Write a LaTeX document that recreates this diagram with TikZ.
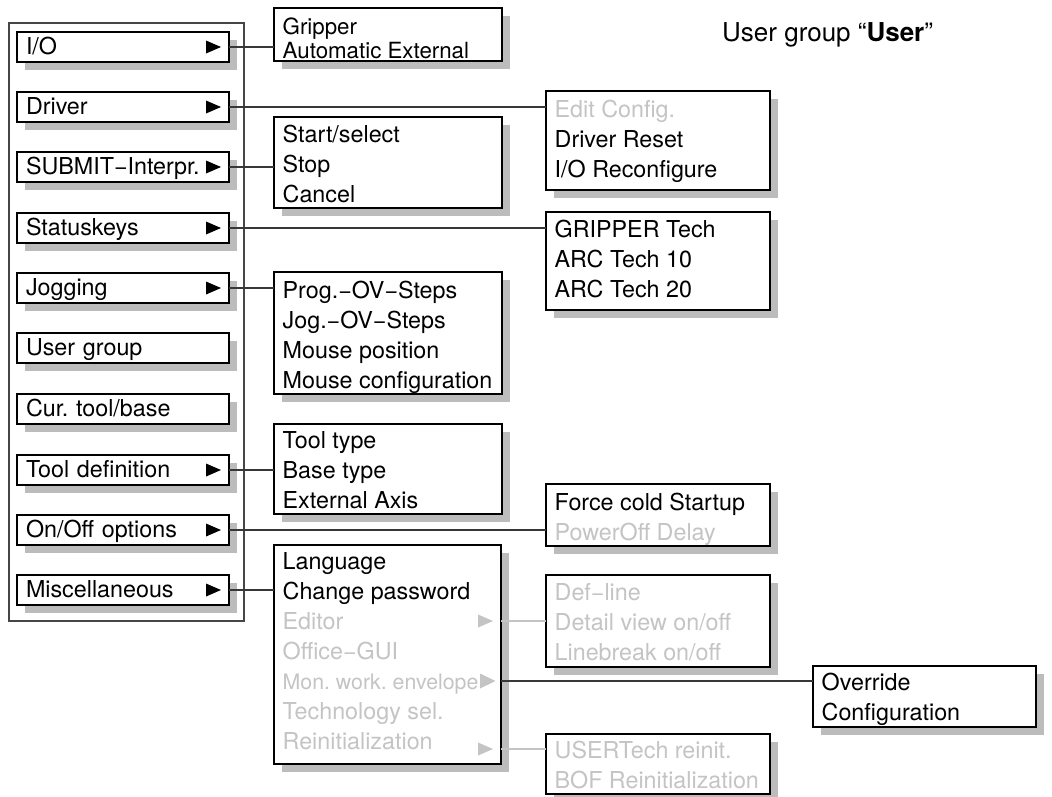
\documentclass[tikz,border=0pt]{standalone}
\usepackage{fontspec}
\setmainfont{TeX Gyre Heros}
\usetikzlibrary{shadows}
\definecolor{lg}{RGB}{196,196,196}
\definecolor{shg}{RGB}{188,188,188}
\definecolor{cn}{RGB}{55,55,55}
\definecolor{fr}{RGB}{70,70,70}
\newcommand\myln[1]{\strut#1}
\newcommand\mtri[2]{\fill[#2] ([shift={(-23,-6.5)}]#1) -- ([shift={(-8,0)}]#1) -- ([shift={(-23,6.5)}]#1) -- cycle;}
\frenchspacing
\begin{document}
\begin{tikzpicture}[x=1pt,y=-1pt,
  font=\fontsize{23.3}{30}\selectfont\frenchspacing,
  shbox/.style={draw=black, line width=2.6pt, fill=white, outer sep=0pt, inner sep=0pt,
    drop shadow={shadow xshift=7.5pt, shadow yshift=-7.5pt, fill=shg, opacity=1}},
  menu/.style={shbox, minimum width=212pt, minimum height=30pt, text width=194pt,
    align=left, inner xsep=9pt, inner ysep=0pt, text height=18pt, text depth=3pt},
  lines/.style={anchor=north west, inner sep=0pt, align=left},
  conn/.style={draw=cn, line width=1.3pt},
  gconn/.style={draw=lg, line width=1.3pt}]
\useasboundingbox (0,0) rectangle (1052,796);

% title
\node[anchor=base west, inner sep=0pt, font=\fontsize{26}{30}\selectfont] (title) at (722,41) {User group “\textbf{User}”};

% outer frame of main menu
\node[draw=fr, line width=1.1pt, minimum width=235pt, minimum height=598pt, inner sep=0pt] (frame) at (126.5,322) {};

% main menu items
\node[menu] (mIO)   at (123,47)  {I/O};
\node[menu] (mDrv)  at (123,107) {Driver};
\node[menu] (mSub)  at (123,167) {SUBMIT−Interpr.};
\node[menu] (mStat) at (123,228) {Statuskeys};
\node[menu] (mJog)  at (123,288) {Jogging};
\node[menu] (mUsr)  at (123,348) {User group};
\node[menu] (mCur)  at (123,409) {Cur. tool/base};
\node[menu] (mTool) at (123,470) {Tool definition};
\node[menu] (mOn)   at (123,530) {On/Off options};
\node[menu] (mMisc) at (123,590) {Miscellaneous};
\mtri{mIO.east}{black}
\mtri{mDrv.east}{black}
\mtri{mSub.east}{black}
\mtri{mStat.east}{black}
\mtri{mJog.east}{black}
\mtri{mTool.east}{black}
\mtri{mOn.east}{black}
\mtri{mMisc.east}{black}

% submenu boxes
\node[shbox, minimum width=228pt, minimum height=53pt] (grip) at (388,34.5) {};
\node[lines, font=\fontsize{22.3}{22}\selectfont] (gripT) at (282.5,17.6) {\myln{Gripper}\\\myln{Automatic External}};

\node[shbox, minimum width=224pt, minimum height=99pt] (drv) at (658,140.5) {};
\node[lines] (drvT) at (554.5,96) {\myln{\textcolor{lg}{Edit Config.}}\\\myln{Driver Reset}\\\myln{I/O Reconfigure}};

\node[shbox, minimum width=228pt, minimum height=91pt] (sub) at (388,162.5) {};
\node[lines] (subT) at (282.5,121) {\myln{Start/select}\\\myln{Stop}\\\myln{Cancel}};

\node[shbox, minimum width=224pt, minimum height=98pt] (stat) at (658,261) {};
\node[lines] (statT) at (554.5,216) {\myln{GRIPPER Tech}\\\myln{ARC Tech 10}\\\myln{ARC Tech 20}};

\node[shbox, minimum width=228pt, minimum height=122pt] (jog) at (388,333) {};
\node[lines] (jogT) at (282.5,277) {\myln{Prog.−OV−Steps}\\\myln{Jog.−OV−Steps}\\\myln{Mouse position}\\\myln{Mouse configuration}};

\node[shbox, minimum width=228pt, minimum height=90pt] (tool) at (388,469) {};
\node[lines] (toolT) at (282.5,427) {\myln{Tool type}\\\myln{Base type}\\\myln{External Axis}};

\node[shbox, minimum width=224pt, minimum height=62pt] (onoff) at (658,515) {};
\node[lines] (onoffT) at (554.5,489) {\myln{Force cold Startup}\\\myln{\textcolor{lg}{PowerOff Delay}}};

\node[shbox, minimum width=227pt, minimum height=219pt] (misc) at (387.5,654.5) {};
\node[lines] (miscT) at (282.5,548) {\myln{Language}\\\myln{Change password}\\\myln{\textcolor{lg}{Editor}}\\\myln{\textcolor{lg}{Office−GUI}}\\{\fontsize{21.3}{30}\selectfont\myln{\textcolor{lg}{Mon. work. envelope}}}\\\myln{\textcolor{lg}{Technology sel.}}\\\myln{\textcolor{lg}{Reinitialization}}};

\node[shbox, minimum width=224pt, minimum height=92pt] (def) at (658,621) {};
\node[lines, text=lg] (defT) at (554.5,579) {\myln{Def−line}\\\myln{Detail view on/off}\\\myln{Linebreak on/off}};

\node[shbox, minimum width=223pt, minimum height=61pt] (over) at (924.5,696.5) {};
\node[lines] (overT) at (821.5,669) {\myln{Override}\\\myln{Configuration}};

\node[shbox, minimum width=224pt, minimum height=60pt] (usr) at (658,764) {};
\node[lines, text=lg] (usrT) at (554.5,737) {\myln{USERTech reinit.}\\\myln{BOF Reinitialization}};

% connector points on the Miscellaneous submenu
\coordinate (edp) at (501,621);
\coordinate (monp) at (501,681);
\coordinate (rep) at (501,749);
\mtri{edp}{lg}
\fill[lg] (480,673.5) -- (495.5,681) -- (480,688.5) -- cycle;
\mtri{rep}{lg}

% connectors
\draw[conn] (mIO.east) -- (mIO.east -| grip.west);
\draw[conn] (mDrv.east) -- (mDrv.east -| drv.west);
\draw[conn] (mSub.east) -- (mSub.east -| sub.west);
\draw[conn] (mStat.east) -- (mStat.east -| stat.west);
\draw[conn] (mJog.east) -- (mJog.east -| jog.west);
\draw[conn] (mTool.east) -- (mTool.east -| tool.west);
\draw[conn] (mOn.east) -- (mOn.east -| onoff.west);
\draw[conn] (mMisc.east) -- (mMisc.east -| misc.west);
\draw[gconn] (edp) -- (edp -| def.west);
\draw[conn] (monp) -- (monp -| over.west);
\draw[gconn] (rep) -- (rep -| usr.west);
\end{tikzpicture}
\end{document}
